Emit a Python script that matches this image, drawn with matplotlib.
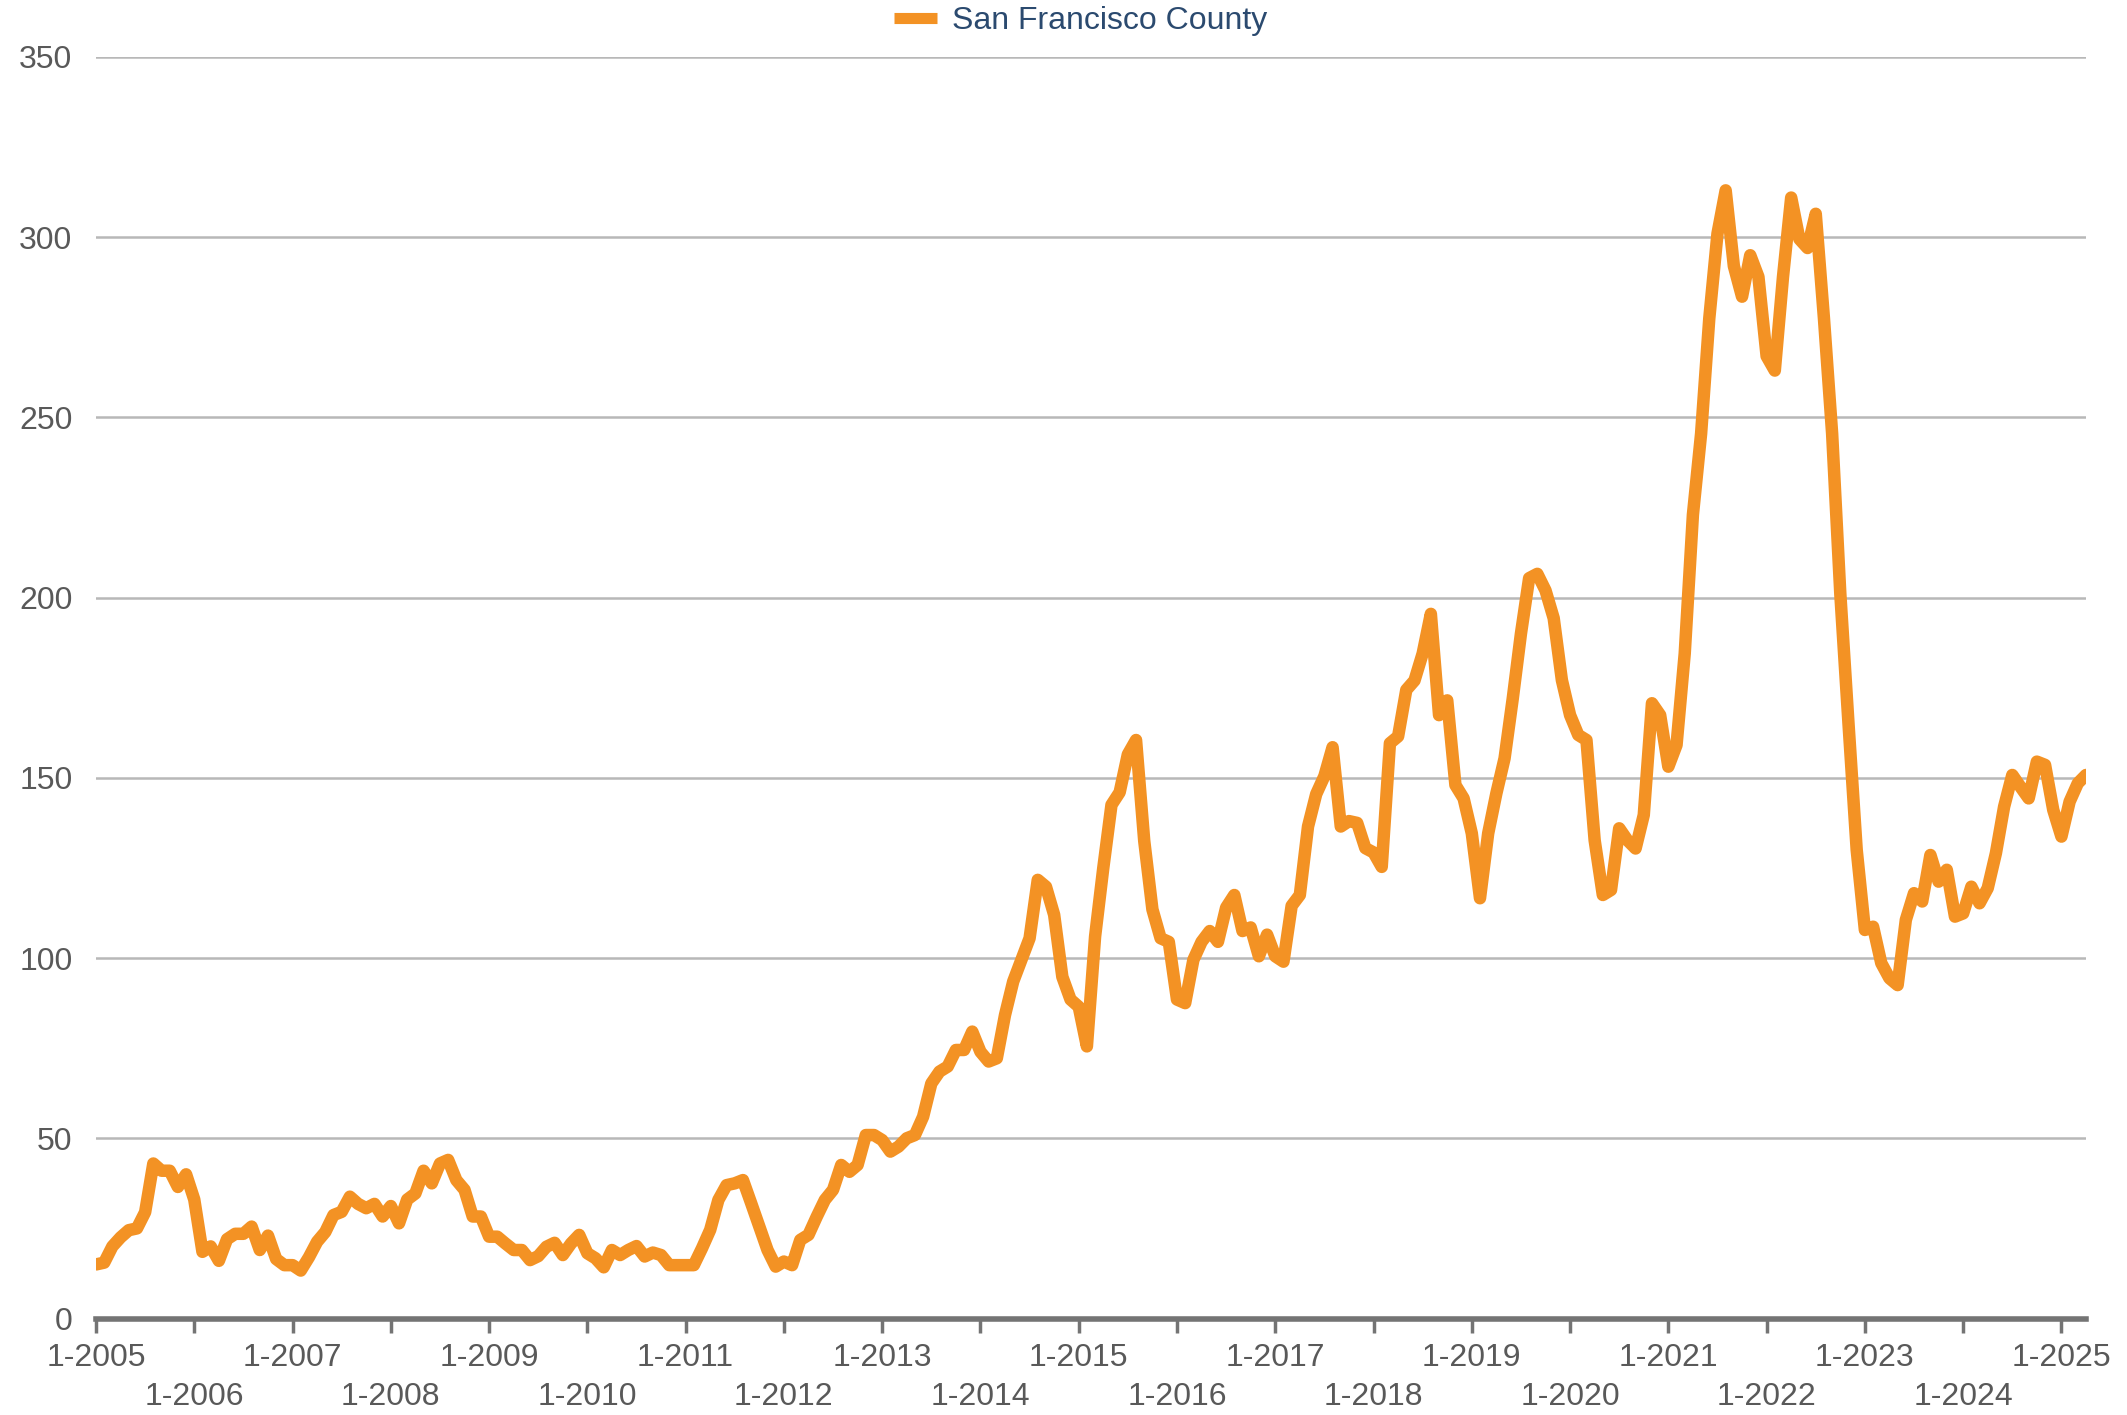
import numpy as np
import matplotlib
matplotlib.use("Agg")
import matplotlib.pyplot as plt

plt.rcParams['font.family'] = ['Liberation Sans', 'DejaVu Sans']

series_name = "San Francisco County"
start_year = 2005
end_year = 2025

# monthly values, Jan 2005 .. Apr 2025
values = [
    15, 15.5, 20, 22.5, 24.5, 25, 29.5, 43, 41, 41, 36.5, 40,                  # 2005
    33, 18.5, 20, 16, 22, 23.5, 23.5, 25.5, 19, 23, 16.5, 14.8,                # 2006
    14.8, 13.3, 17, 21.3, 24, 28.7, 29.6, 33.8, 31.8, 30.6, 31.8, 28.3,        # 2007
    31.2, 26.4, 33, 34.7, 41, 37.5, 43, 44, 38.4, 35.7, 28.3, 28.3,            # 2008
    22.7, 22.7, 20.8, 19, 19, 16.2, 17.3, 19.9, 21, 17.6, 20.8, 23.2,          # 2009
    18.1, 16.7, 14.2, 19, 17.6, 19, 20.1, 17.2, 18.3, 17.6, 14.8, 14.8,        # 2010
    14.8, 14.8, 19.5, 24.6, 32.9, 37, 37.5, 38.4, 32, 25.5, 19, 14.4,          # 2011
    15.8, 14.8, 21.8, 23.2, 28.2, 32.9, 35.7, 42.6, 40.7, 42.6, 50.9, 50.9,    # 2012
    49.5, 46.3, 47.7, 50, 50.9, 56, 65.2, 68.5, 69.9, 74.5, 74.5, 79.6,        # 2013
    74, 71.3, 72.2, 84.2, 93.5, 99.5, 105.5, 121.7, 119.8, 112, 94.8, 88.5,    # 2014
    86.5, 75.5, 106, 125, 142.5, 146, 156.5, 160.5, 132.5, 113.5, 105.5, 104.5,  # 2015
    88.5, 87.5, 99.5, 104.5, 107.5, 104.5, 114, 117.5, 107.5, 108.5, 100.5, 106.5,  # 2016
    100.5, 99, 114.5, 117.5, 136.5, 145.5, 150.5, 158.5, 136.5, 138, 137.5, 130.5,  # 2017
    129.3, 125.3, 159.6, 161.5, 174.4, 177, 184.5, 195.5, 167.4, 171.5, 148, 144.3,  # 2018
    134.6, 116.6, 134.6, 145.7, 155.4, 172, 190, 205.4, 206.6, 202, 194.3, 177.1,  # 2019
    167.4, 161.9, 160.5, 132.7, 117.5, 118.9, 136, 132.7, 130.4, 139.7, 170.7, 167.4,  # 2020
    153.1, 159.1, 184.5, 223, 245.5, 277.5, 301, 313, 292, 283.5, 295, 289,    # 2021
    267, 263, 289, 311, 299.5, 297, 306.5, 277.5, 245.5, 201, 165, 130,        # 2022
    107.8, 108.7, 98.6, 94.4, 92.5, 110.6, 118, 115.7, 128.6, 121.2, 124.5, 111.5,  # 2023
    112.4, 119.8, 115.2, 119.4, 129.1, 142, 150.8, 147.5, 144.3, 154.5, 153.6, 141.1,  # 2024
    133.7, 143.4, 148.5, 150.8,                                                # 2025
]

years = list(range(start_year, end_year + 1))
tick_labels = [("1-%d" % y) if i % 2 == 0 else ("\n1-%d" % y) for i, y in enumerate(years)]
y_ticks = [0, 50, 100, 150, 200, 250, 300, 350]

line_color = '#F39224'
grid_color = '#B8B8B8'
axis_color = '#747474'
text_color = '#595959'

fig = plt.figure(figsize=(21.27, 14.15), dpi=100)
ax = fig.add_axes([96/2127, 1 - 1318.5/1415, (2086 - 96)/2127, (1318.5 - 57)/1415])

x = np.arange(len(values))
ax.plot(x, values, color=line_color, lw=9, solid_joinstyle='round',
        solid_capstyle='round', label=series_name, zorder=3)

ax.set_xlim(0, len(values) - 1)
ax.set_ylim(0, 350)
ax.set_yticks(y_ticks)
ax.set_xticks(np.arange(0, 12 * len(years), 12))
ax.set_xticklabels(tick_labels, linespacing=1.38)

ax.yaxis.grid(True, color=grid_color, lw=1.8)
ax.set_axisbelow(True)
for s in ['top', 'right', 'left']:
    ax.spines[s].set_visible(False)
ax.spines['bottom'].set_color(axis_color)
ax.spines['bottom'].set_linewidth(4)
ax.spines['bottom'].set_zorder(4)

ax.tick_params(axis='x', length=10, width=2.5, color=axis_color, labelsize=23,
               labelcolor=text_color, pad=8)
ax.tick_params(axis='y', length=0, labelsize=23, labelcolor=text_color, pad=17)

leg = fig.legend(loc='center', bbox_to_anchor=(0.508, 0.985), frameon=False,
                 fontsize=23, handlelength=1.35, handletextpad=0.45)
for h in leg.get_lines():
    h.set_linewidth(8)
    h.set_solid_capstyle('butt')
for t in leg.get_texts():
    t.set_color('#2B4A6F')

fig.savefig('out.png', dpi=100)
